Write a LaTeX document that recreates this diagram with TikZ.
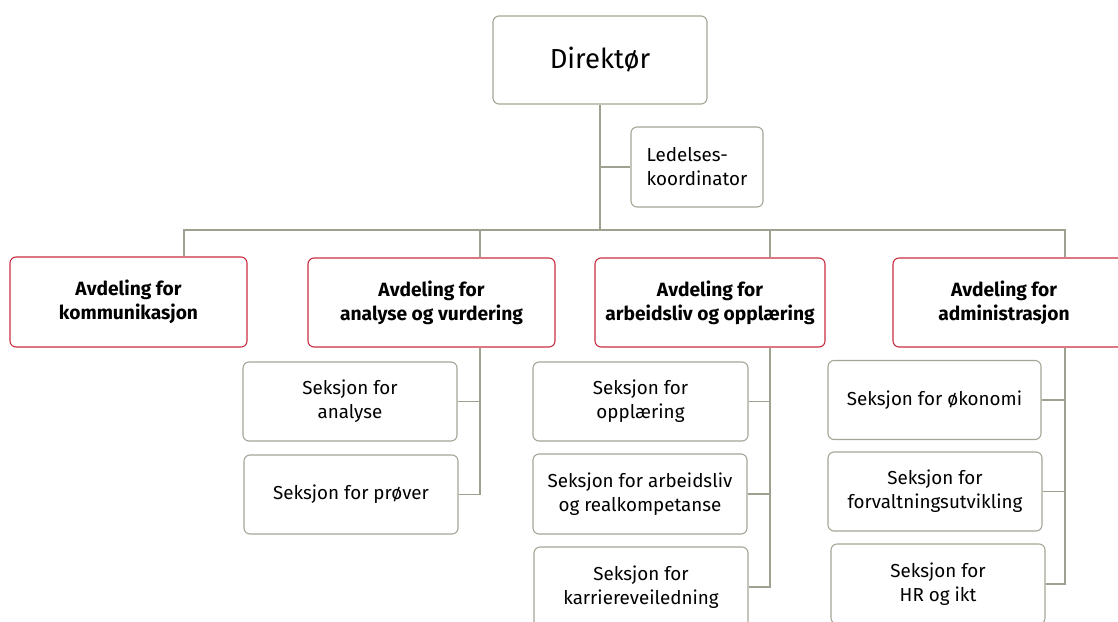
\documentclass[tikz,border=0pt]{standalone}
\usepackage{fontspec}
\setmainfont{Fira Sans}
\definecolor{lineg}{RGB}{160,160,145}
\definecolor{boxg}{RGB}{165,165,150}
\definecolor{deptred}{RGB}{200,45,65}
\begin{document}
\begin{tikzpicture}[x=1pt,y=-1pt,
  box/.style={draw=boxg,line width=1.1pt,rounded corners=6pt,fill=white,inner sep=0pt,align=center,
    font=\fontsize{18.8}{24}\selectfont},
  dept/.style={draw=deptred,line width=1.1pt,rounded corners=6pt,fill=white,inner sep=0pt,align=center,
    font=\fontsize{19.2}{24}\selectfont\bfseries},
  conn/.style={draw=lineg,line width=1.3pt}]
\useasboundingbox (0,0) rectangle (1118,621);
\clip (0,0) rectangle (1118,621);
% top
\node[box,minimum width=214pt,minimum height=88pt,font=\fontsize{27.5}{32}\selectfont] (dir) at (600,60) {Direktør};
\node[box,minimum width=132pt,minimum height=80pt,align=left] (led) at (697,167) {Ledelses-\\koordinator};
\coordinate (hub) at (600,230);
\coordinate (hl) at (184,230);
\coordinate (h2) at (480,230);
\coordinate (h3) at (770,230);
\coordinate (hr) at (1065,230);
% departments
\node[dept,minimum width=237pt,minimum height=90pt] (d1) at (128.5,302) {Avdeling for\\kommunikasjon};
\node[dept,minimum width=247pt,minimum height=89pt] (d2) at (431.5,302.5) {Avdeling for\\analyse og vurdering};
\node[dept,minimum width=230pt,minimum height=89pt] (d3) at (710,302.5) {Avdeling for\\arbeidsliv og opplæring};
\node[dept,minimum width=247pt,minimum height=89pt] (d4) at (1016.5,302.5) {};
\node[font=\fontsize{19.2}{24}\selectfont\bfseries,align=center] (d4t) at (1004,302.5) {Avdeling for\\administrasjon};
% sections dept 2
\node[box,minimum width=214pt,minimum height=79pt] (s21) at (350,401.5) {Seksjon for\\analyse};
\node[box,minimum width=214pt,minimum height=79pt] (s22) at (351,494.5) {Seksjon for prøver};
% sections dept 3
\node[box,minimum width=215pt,minimum height=79pt] (s31) at (640.5,401.5) {Seksjon for\\opplæring};
\node[box,minimum width=214pt,minimum height=80pt] (s32) at (640,494) {Seksjon for arbeidsliv\\og realkompetanse};
\node[box,minimum width=214pt,minimum height=80pt] (s33) at (641,587) {Seksjon for\\karriereveiledning};
% sections dept 4
\node[box,minimum width=213pt,minimum height=79pt] (s41) at (934.5,400) {Seksjon for økonomi};
\node[box,minimum width=214pt,minimum height=79pt] (s42) at (935,491.5) {Seksjon for\\forvaltningsutvikling};
\node[box,minimum width=214pt,minimum height=80pt] (s43) at (938,584) {Seksjon for\\HR og ikt};
\coordinate (sp2) at (480,494.5);
\coordinate (sp3) at (770,587);
\coordinate (sp4) at (1065,584);
% connectors
\draw[conn] (dir.south) -- (hub);
\draw[conn] (led.west) -- (led.west -| hub);
\draw[conn] (hl |- d1.north) -- (hl) -- (hr) -- (hr |- d4.north);
\draw[conn] (h2) -- (h2 |- d2.north);
\draw[conn] (h3) -- (h3 |- d3.north);
\draw[conn] (d2.south -| sp2) -- (sp2) -- (s22.east);
\draw[conn] (s21.east) -- (s21.east -| sp2);
\draw[conn] (d3.south -| sp3) -- (sp3) -- (s33.east);
\draw[conn] (s31.east) -- (s31.east -| sp3);
\draw[conn] (s32.east) -- (s32.east -| sp3);
\draw[conn] (d4.south -| sp4) -- (sp4) -- (s43.east);
\draw[conn] (s41.east) -- (s41.east -| sp4);
\draw[conn] (s42.east) -- (s42.east -| sp4);
\end{tikzpicture}
\end{document}
